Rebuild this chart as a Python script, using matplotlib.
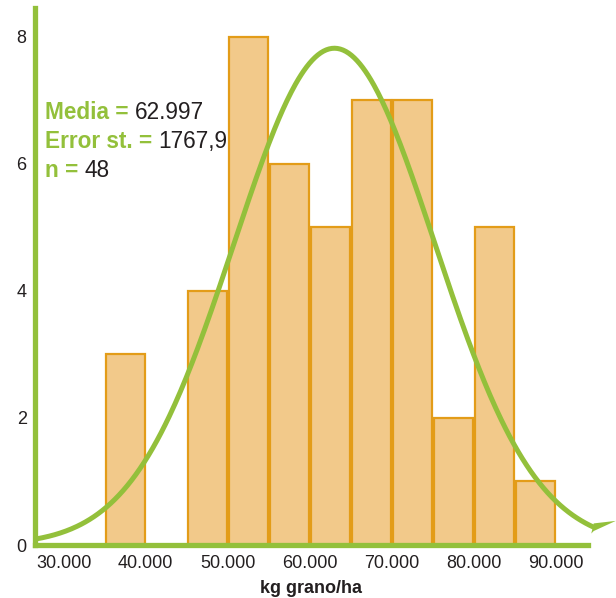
import numpy as np
import matplotlib.pyplot as plt

plt.rcParams['font.family'] = ['Liberation Sans', 'DejaVu Sans']

# histogram of yields, 5.000 kg bins
bin_left = [35000, 45000, 50000, 55000, 60000, 65000, 70000, 75000, 80000, 85000]
counts = [3, 4, 8, 6, 5, 7, 7, 2, 5, 1]
bin_width = 5000

media = 62997
error_st = 1767.9
n = 48

x_ticks = [30000, 40000, 50000, 60000, 70000, 80000, 90000]
x_labels = ['30.000', '40.000', '50.000', '60.000', '70.000', '80.000', '90.000']
y_ticks = [0, 2, 4, 6, 8]

green = '#93c03b'
bar_fill = '#f2c98a'
bar_edge = '#e39c18'
dark = '#231f20'

fig = plt.figure(figsize=(6.16, 5.98), dpi=100)
ax = fig.add_axes([0.0568, 0.0886, 0.8977, 0.898])

ax.bar([b + 100 for b in bin_left], counts, width=bin_width * 0.96, align='edge',
       color=bar_fill, edgecolor=bar_edge, linewidth=1.6, zorder=2)

# normal curve scaled to counts per bin
sd = error_st * np.sqrt(n)
xs = np.linspace(26500, 94600, 400)
ys = n * bin_width / (sd * np.sqrt(2 * np.pi)) * np.exp(-(xs - media) ** 2 / (2 * sd ** 2))
ax.plot(xs, ys, color=green, lw=3.6, zorder=3, clip_on=False, solid_capstyle='butt')
# little tapered tip at the end of the stroke
tip_x = xs[-1]
tip_y = ys[-1]
ax.fill([tip_x - 300, tip_x, tip_x + 2700, tip_x], [tip_y - 0.1, tip_y - 0.06, tip_y + 0.1, tip_y + 0.06],
        color=green, lw=0, zorder=3, clip_on=False)

ax.set_xlim(26500, 93900)
ax.set_ylim(0, 8.45)
ax.set_xticks(x_ticks)
ax.set_xticklabels(x_labels)
ax.set_yticks(y_ticks)
ax.tick_params(length=0, labelsize=13, colors=dark, pad=7)
ax.tick_params(axis='y', pad=6)

for side in ['top', 'right']:
    ax.spines[side].set_visible(False)
for side in ['left', 'bottom']:
    ax.spines[side].set_color(green)
    ax.spines[side].set_linewidth(3.8)
    ax.spines[side].set_zorder(4)

ax.set_xlabel('kg grano/ha', fontsize=13, fontweight='bold', color=dark, labelpad=6)

# stats block: green bold label followed by dark value
stats = [('Media = ', '62.997'), ('Error st. = ', '1767,9'), ('n = ', str(n))]
for i, (lab, val) in enumerate(stats):
    y = 1 - (119 + 29 * i) / 598
    t = fig.text(45 / 616, y, lab, fontsize=16.3, fontweight='bold', color=green,
                 va='baseline', ha='left')
    ax.annotate(val, xy=(1, 0), xycoords=t, xytext=(0, 0), textcoords='offset points',
                fontsize=16.3, color=dark, va='bottom', ha='left')

fig.savefig('out.png', dpi=100)
